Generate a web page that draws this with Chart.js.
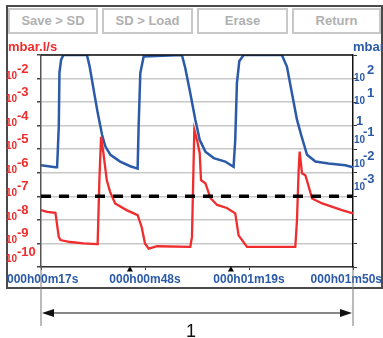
<!DOCTYPE html>
<html>
<head>
<meta charset="utf-8">
<script src="https://cdn.jsdelivr.net/npm/chart.js@4/dist/chart.umd.min.js"></script>
<style>
  body { margin: 0; background: #fff; }
  #wrap { position: relative; width: 383px; height: 338px; overflow: hidden; }
  #frame { position: absolute; left: 6px; top: 5px; width: 377px; height: 284px;
           border: 2px solid #4a4a4a; box-sizing: border-box; }
  .btn { position: absolute; top: 8px; height: 26px; box-sizing: border-box;
         border: 2px solid #c8c8c8; color: #b0b0b0; text-align: center;
         font: bold 13px "Liberation Sans", Arial, sans-serif; line-height: 22px; }
  canvas { position: absolute; left: 0; top: 0; }
</style>
</head>
<body>
<div id="wrap">
  <div id="frame"></div>
  <div class="btn" style="left:8px;width:90px">Save &gt; SD</div>
  <div class="btn" style="left:102px;width:91px">SD &gt; Load</div>
  <div class="btn" style="left:197px;width:91px">Erase</div>
  <div class="btn" style="left:292px;width:89px">Return</div>
  <canvas id="c" width="383" height="338"></canvas>
</div>
<script>
// time in seconds
const xTickValues = [17, 48, 79, 110];
const leftDecades = [1e-10, 1e-9, 1e-8, 1e-7, 1e-6, 1e-5, 1e-4, 1e-3, 1e-2, 1e-1];
const rightDecades = [1e-6, 1e-5, 1e-4, 1e-3, 1e-2, 1e-1, 1, 1e1, 1e2, 1e3];

// pressure, mbar (right axis)
const blueTime = [17.0, 21.3, 21.8, 22.3, 22.5, 23.0, 23.7, 30.7, 31.5, 32.7, 33.9, 35.2, 36.2, 37.7, 40.6,
  43.6, 45.8, 46.1, 46.6, 47.6, 59.0, 60.0, 61.5, 63.0, 64.3, 66.0, 68.5, 71.9, 74.4, 74.9, 75.4, 76.1,
  77.4, 88.8, 90.3, 91.8, 93.3, 94.8, 96.3, 98.8, 102.7, 107.7, 110.0];
const bluePressure = [2.1e-2, 1.7e-2, 1.7e-2, 0.91, 178, 630, 1000, 1000, 324, 33, 3.5, 0.41, 0.13, 5.8e-2, 3.0e-2,
  1.9e-2, 1.5e-2, 0.91, 170, 870, 1000, 280, 24, 1.8, 0.25, 7.9e-2, 4.2e-2, 3.0e-2, 1.8e-2, 0.25, 65, 540,
  1000, 1000, 324, 24, 1.8, 0.30, 5.8e-2, 3.0e-2, 2.5e-2, 2.1e-2, 1.7e-2];

// leak rate, mbar.l/s (left axis)
const redTime = [17.0, 18.8, 21.3, 22.3, 22.8, 25.7, 29.7, 33.7, 33.9, 34.4, 34.9, 35.6, 36.6, 37.6, 39.1,
  42.5, 45.8, 47.0, 48.0, 49.1, 51.6, 61.5, 62.0, 62.7, 63.5, 64.3, 64.7, 66.0, 67.5, 69.5, 72.4, 74.9,
  75.9, 78.4, 92.8, 93.3, 93.8, 94.1, 94.8, 95.8, 96.8, 97.8, 100.8, 106.7, 110.0];
const redLeak = [2.6e-8, 2.2e-8, 2.0e-8, 1.9e-9, 1.4e-9, 1.15e-9, 1.0e-9, 9.3e-10, 1.15e-9, 4.9e-7, 3.4e-5, 6.9e-6, 4.9e-7, 1.55e-7, 5.0e-8,
  2.6e-8, 1.6e-8, 5.0e-9, 1.0e-9, 6.0e-10, 7.6e-10, 7.1e-10, 1.9e-9, 6.6e-5, 2.5e-5, 6.9e-6, 4.9e-7, 3.6e-7, 8.5e-8, 4.3e-8, 3.2e-8, 1.9e-8,
  2.2e-9, 7.1e-10, 7.1e-10, 9.8e-9, 1.3e-6, 7.9e-6, 9.5e-7, 7.9e-7, 2.6e-7, 8.1e-8, 5.0e-8, 2.6e-8, 1.9e-8];

// threshold (dashed) and cursor markers
const thresholdTime = [17, 110];
const thresholdLeak = [1e-7, 1e-7];
const markerTime = [43.5, 73.6];
const markerLeak = [7.6e-11, 7.6e-11];

const RED = '#f02c2c';
const BLUE = '#2a5aa8';
const FONT = '"Liberation Sans", Arial, sans-serif';

const pts = (xs, ys) => xs.map((x, i) => ({ x, y: ys[i] }));

function fmtTime(s) {
  const h = Math.floor(s / 3600), m = Math.floor((s % 3600) / 60), sec = Math.round(s % 60);
  return String(h).padStart(3, '0') + 'h' + String(m).padStart(2, '0') + 'm' + String(sec).padStart(2, '0') + 's';
}

const decor = {
  id: 'decor',
  afterDraw(chart) {
    const ctx = chart.ctx, a = chart.chartArea;
    const yl = chart.scales.yL, yr = chart.scales.yR, xs = chart.scales.x;
    ctx.save();

    // top edge of plot
    ctx.strokeStyle = '#111';
    ctx.lineWidth = 1.5;
    ctx.beginPath(); ctx.moveTo(a.left, a.top); ctx.lineTo(a.right, a.top); ctx.stroke();

    // left axis labels
    ctx.fillStyle = RED;
    ctx.textAlign = 'left';
    yl.ticks.forEach(t => {
      const e = Math.round(Math.log10(t.value));
      if (e === -1) return;
      const base = Math.min(yl.getPixelForValue(t.value), 262);
      ctx.font = 'bold 10px ' + FONT;
      ctx.fillText('10', 6, base);
      ctx.font = 'bold 13px ' + FONT;
      ctx.fillText(String(e), 17, base - 6);
    });

    // right axis labels
    ctx.fillStyle = BLUE;
    yr.ticks.forEach(t => {
      const e = Math.round(Math.log10(t.value));
      if (e > 2 || e < -3) return;
      const py = yr.getPixelForValue(t.value);
      if (e === 0) {
        ctx.font = 'bold 13px ' + FONT;
        ctx.fillText('1', 356, py - 1);
        return;
      }
      const base = e > 0 ? py + 2 : py - 6;
      ctx.font = 'bold 10px ' + FONT;
      ctx.fillText('10', 354, base);
      ctx.font = 'bold 13px ' + FONT;
      ctx.fillText(String(e), e < 0 ? 363 : 367, base - 7);
    });

    // units
    ctx.font = 'bold 13px ' + FONT;
    ctx.fillStyle = RED;
    ctx.fillText('mbar.l/s', 8, 51);
    ctx.fillStyle = BLUE;
    ctx.fillText('mbar', 353, 51);

    // x labels
    ctx.font = 'bold 12px ' + FONT;
    ctx.fillStyle = BLUE;
    xs.ticks.forEach(t => {
      const txt = fmtTime(t.value);
      const w = ctx.measureText(txt).width;
      let lx = xs.getPixelForValue(t.value) - w / 2;
      lx = Math.max(7, Math.min(lx, 382 - w));
      ctx.fillText(txt, lx, 283);
    });

    // dimension annotation below
    ctx.strokeStyle = '#777';
    ctx.lineWidth = 1;
    [a.left, a.right].forEach(px => {
      ctx.beginPath(); ctx.moveTo(px, a.bottom); ctx.lineTo(px, 326); ctx.stroke();
    });
    const ay = 313;
    ctx.strokeStyle = '#111';
    ctx.beginPath(); ctx.moveTo(a.left + 4, ay); ctx.lineTo(a.right - 4, ay); ctx.stroke();
    ctx.fillStyle = '#111';
    ctx.beginPath(); ctx.moveTo(a.left + 1, ay); ctx.lineTo(a.left + 13, ay - 4); ctx.lineTo(a.left + 13, ay + 4); ctx.fill();
    ctx.beginPath(); ctx.moveTo(a.right - 1, ay); ctx.lineTo(a.right - 13, ay - 4); ctx.lineTo(a.right - 13, ay + 4); ctx.fill();
    ctx.font = '18px ' + FONT;
    ctx.textAlign = 'center';
    ctx.fillText('1', 191, 337);

    ctx.restore();
  }
};

new Chart(document.getElementById('c'), {
  type: 'line',
  data: {
    datasets: [
      {
        label: 'threshold', data: pts(thresholdTime, thresholdLeak), yAxisID: 'yL',
        borderColor: '#000', borderWidth: 3.5, borderDash: [10, 8], pointRadius: 0, order: 0
      },
      {
        label: 'markers', type: 'scatter', data: pts(markerTime, markerLeak), yAxisID: 'yL',
        pointStyle: 'triangle', pointRadius: 3.5, backgroundColor: '#000', borderColor: '#000',
        borderWidth: 0, showLine: false, clip: false, order: 0
      },
      {
        label: 'leak rate', data: pts(redTime, redLeak), yAxisID: 'yL',
        borderColor: RED, borderWidth: 2.3, pointRadius: 0, tension: 0, order: 1
      },
      {
        label: 'pressure', data: pts(blueTime, bluePressure), yAxisID: 'yR',
        borderColor: BLUE, borderWidth: 2.5, pointRadius: 0, tension: 0, order: 2
      }
    ]
  },
  options: {
    responsive: false,
    animation: false,
    layout: { padding: { top: 55, left: 0, right: 0, bottom: 0 } },
    plugins: { legend: { display: false }, tooltip: { enabled: false } },
    scales: {
      x: {
        type: 'linear', min: 17, max: 110,
        afterBuildTicks(s) { s.ticks = xTickValues.map(v => ({ value: v })); },
        afterFit(s) { s.height = 71; },
        ticks: { display: false },
        grid: { drawOnChartArea: false, tickLength: 3, color: '#333' },
        border: { color: '#333', width: 1.5 }
      },
      yL: {
        type: 'logarithmic', position: 'left', min: 1e-10, max: 1e-1,
        afterBuildTicks(s) { s.ticks = leftDecades.map(v => ({ value: v })); },
        afterFit(s) { s.width = 41; },
        ticks: { display: false },
        grid: { color: '#c8c8c8', lineWidth: 1.5, tickLength: 4, tickColor: '#444' },
        border: { color: '#555', width: 1.5 }
      },
      yR: {
        type: 'logarithmic', position: 'right', min: 1e-6, max: 1e3,
        afterBuildTicks(s) { s.ticks = rightDecades.map(v => ({ value: v })); },
        afterFit(s) { s.width = 30; },
        ticks: { display: false },
        grid: { drawOnChartArea: false, tickLength: 4, tickColor: '#333' },
        border: { color: '#111', width: 1.5 }
      }
    }
  },
  plugins: [decor]
});
</script>
</body>
</html>
